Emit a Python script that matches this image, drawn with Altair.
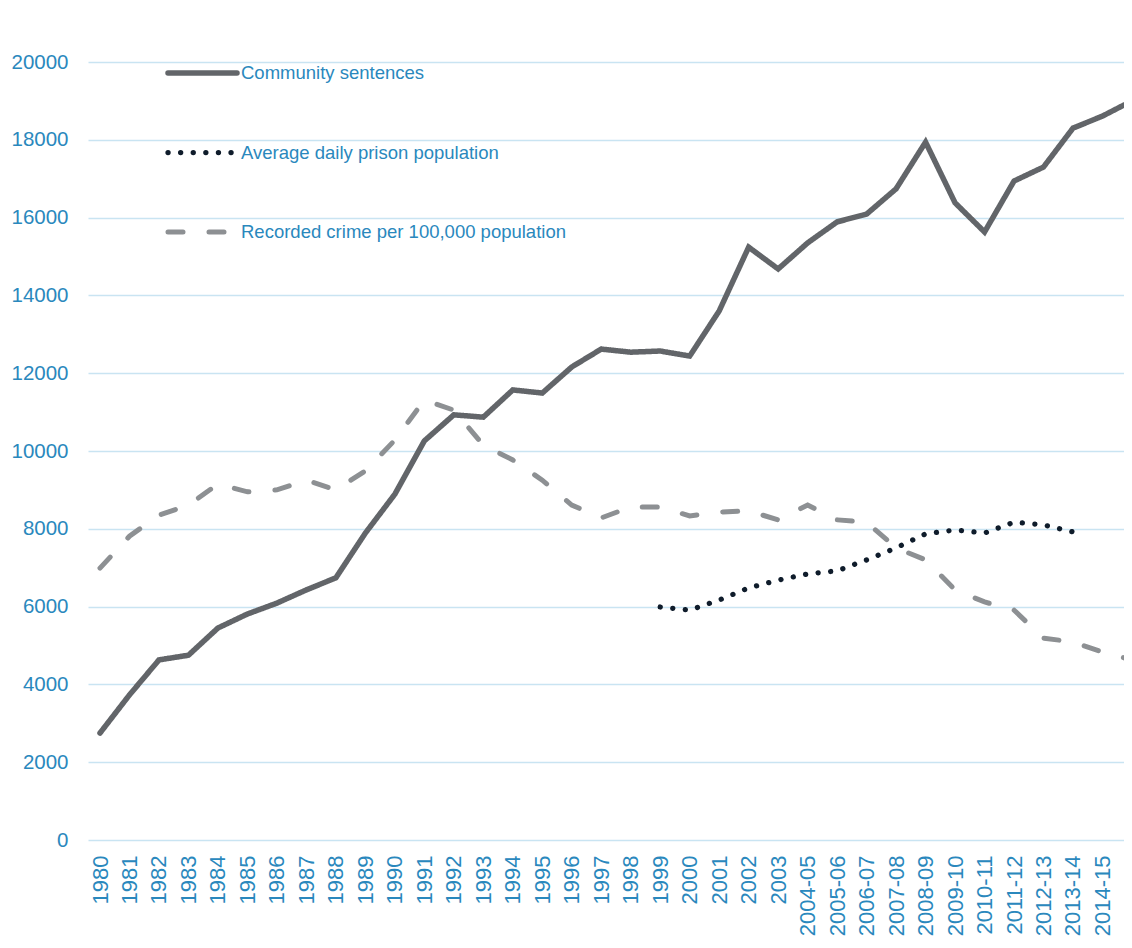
import json
import altair as alt
import pandas as pd

years = ["1980", "1981", "1982", "1983", "1984", "1985", "1986", "1987", "1988", "1989",
         "1990", "1991", "1992", "1993", "1994", "1995", "1996", "1997", "1998", "1999",
         "2000", "2001", "2002", "2003", "2004-05", "2005-06", "2006-07", "2007-08",
         "2008-09", "2009-10", "2010-11", "2011-12", "2012-13", "2013-14", "2014-15", "2015-16"]

community = [2750, 3730, 4630, 4750, 5450, 5810, 6090, 6430, 6740, 7890,
             8890, 10260, 10930, 10870, 11570, 11490, 12160, 12620, 12540, 12570,
             12440, 13600, 15240, 14680, 15350, 15890, 16090, 16740,
             17940, 16380, 15630, 16940, 17300, 18300, 18610, 19000]

crime = [6990, 7810, 8350, 8610, 9150, 8950, 9000, 9250, 9000, 9490,
         10280, 11310, 11050, 10150, 9770, 9250, 8610, 8280, 8560, 8560,
         8330, 8430, 8460, 8230, 8610, 8230, 8170, 7510,
         7200, 6430, 6120, 5910, 5190, 5090, 4830, 4630]

prison_years = ["1999", "2000", "2001", "2002", "2003", "2004-05", "2005-06", "2006-07",
                "2007-08", "2008-09", "2009-10", "2010-11", "2011-12", "2012-13", "2013-14"]
prison = [5990, 5910, 6170, 6480, 6680, 6840, 6920, 7200,
          7510, 7870, 7970, 7890, 8170, 8100, 7920]

series_names = ["Community sentences", "Average daily prison population",
                "Recorded crime per 100,000 population"]

rows = []
for y, v in zip(years, community):
    rows.append({"idx": years.index(y), "year": y, "value": v, "series": series_names[0]})
for y, v in zip(prison_years, prison):
    rows.append({"idx": years.index(y), "year": y, "value": v, "series": series_names[1]})
for y, v in zip(years, crime):
    rows.append({"idx": years.index(y), "year": y, "value": v, "series": series_names[2]})
df = pd.DataFrame(rows)
legend_df = pd.DataFrame({"series": series_names})

blue = "#2a88bd"
font = "Liberation Sans"

color_scale = alt.Scale(domain=series_names, range=["#626569", "#0f1c2b", "#8d9093"])
dash_scale = alt.Scale(domain=series_names, range=[[1, 0], [0.1, 12.5], [15, 26]])
width_scale = alt.Scale(domain=series_names, range=[5.5, 5, 6])

n = len(years)
label_expr = json.dumps(years) + "[datum.value]"

lines = alt.Chart(df).mark_line(strokeCap="round", strokeJoin="miter").encode(
    x=alt.X("idx:Q",
            scale=alt.Scale(domain=[-0.407, 34.73], nice=False, zero=False),
            axis=alt.Axis(title=None, values=list(range(n)), labelExpr=label_expr,
                          labelAngle=270, labelFontSize=22, labelColor=blue,
                          labelPadding=15, ticks=False, domain=False, grid=False,
                          labelFont=font, labelOverlap=False, labelFlush=False,
                          labelBound=False)),
    y=alt.Y("value:Q", scale=alt.Scale(domain=[0, 20000], nice=False),
            axis=alt.Axis(title=None, values=list(range(0, 20001, 2000)), format="d",
                          labelFontSize=20.5, labelColor=blue, labelPadding=20,
                          ticks=False, domain=False, grid=True, gridColor="#c9e4f2",
                          gridWidth=1.6, labelFont=font)),
    color=alt.Color("series:N", scale=color_scale, legend=None),
    strokeDash=alt.StrokeDash("series:N", scale=dash_scale, legend=None),
    strokeWidth=alt.StrokeWidth("series:N", scale=width_scale, legend=None),
)

legend_y = alt.Y("series:N", sort=series_names,
                 scale=alt.Scale(type="point", range=[11, 170], padding=0), axis=None)

legend_lines = alt.Chart(legend_df).mark_rule(strokeCap="round").encode(
    x=alt.value(80), x2=alt.value(149),
    y=legend_y,
    color=alt.Color("series:N", scale=color_scale, legend=None),
    strokeDash=alt.StrokeDash("series:N", scale=dash_scale, legend=None),
    strokeWidth=alt.StrokeWidth("series:N", scale=width_scale, legend=None),
)

legend_text = alt.Chart(legend_df).mark_text(
    align="left", baseline="middle", fontSize=18.5, font=font, color=blue
).encode(
    x=alt.value(153),
    y=legend_y,
    text="series:N",
)

chart = alt.layer(lines, legend_lines, legend_text).resolve_scale(
    y="independent"
).properties(
    width=1036, height=778,
    padding={"left": 80, "top": 54, "right": 0, "bottom": 100},
    autosize=alt.AutoSizeParams(type="none"),
).configure(background="white").configure_view(stroke=None)

chart.save("out.html", embed_options={"renderer": "svg", "actions": False})
